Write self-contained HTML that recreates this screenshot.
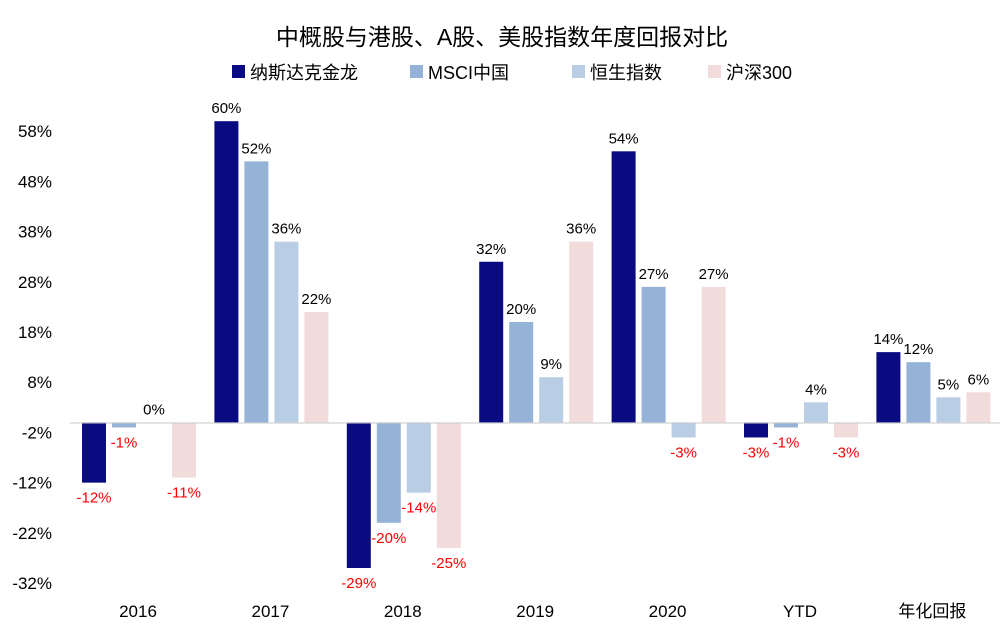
<!DOCTYPE html>
<html><head><meta charset="utf-8"><style>
body{margin:0;background:#fff;}
svg{display:block;font-family:"Liberation Sans","Noto Sans CJK SC",sans-serif;}
</style></head><body>
<svg id="chart" width="1004" height="643">
<text x="502" y="45" text-anchor="middle" font-size="23" fill="#000">中概股与港股、A股、美股指数年度回报对比</text>
<g id="legend"></g>
<g id="yaxis"></g>
<g id="bars"></g>
<line x1="70" x2="1000" y1="423" y2="423" stroke="#c8c8c8" stroke-width="1"/>
<g id="xaxis"></g>
</svg>
<script>
const categories=["2016","2017","2018","2019","2020","YTD","年化回报"];
const seriesNames=["纳斯达克金龙","MSCI中国","恒生指数","沪深300"];
const nasdaq=[-12,60,-29,32,54,-3,14];
const msci=[-1,52,-20,20,27,-1,12];
const hsi=[0,36,-14,9,-3,4,5];
const csi300=[-11,22,-25,36,27,-3,6];
const yTicks=[58,48,38,28,18,8,-2,-12,-22,-32];
const colors=["#0a0a82","#95b3d7","#b9cde5","#f2dcdb"];
const series=[nasdaq,msci,hsi,csi300];
const NS="http://www.w3.org/2000/svg";
function y(v){return 422.4-v*5.02;}
function bandX(i){return 72+i*132.4;}
function mk(tag,attrs,parent){const e=document.createElementNS(NS,tag);for(const k in attrs)e.setAttribute(k,attrs[k]);parent.appendChild(e);return e;}
const yg=document.getElementById('yaxis');
yTicks.forEach(t=>{const e=mk('text',{x:52,y:y(t)+6,'text-anchor':'end','font-size':17,fill:'#000'},yg);e.textContent=t+'%';

});
const xg=document.getElementById('xaxis');
categories.forEach((c,i)=>{const e=mk('text',{x:bandX(i)+66,y:617,'text-anchor':'middle','font-size':17,fill:'#000'},xg);e.textContent=c;

});
const bg=document.getElementById('bars');
series.forEach((s,si)=>{s.forEach((v,i)=>{
 const x=bandX(i)+10+si*30;const y0=y(0),y1=y(v);
 const r=mk('rect',{x:x,y:Math.min(y0,y1),width:24,height:Math.max(Math.abs(y1-y0),1),fill:colors[si]},bg);
 
 
 const t=mk('text',{x:x+12,y:v>=0?y1-8:y1+20,'text-anchor':'middle','font-size':15,fill:v>=0?'#000':'#ff0000'},bg);
 t.textContent=v+'%';
 
 
});});
const lg=document.getElementById('legend');
const lx=[232,410,572,708];
seriesNames.forEach((n,i)=>{
 const r=mk('rect',{x:lx[i],y:65,width:13,height:13,fill:colors[i]},lg);
 
 
 const t=mk('text',{x:lx[i]+18,y:79,'font-size':18,fill:'#000'},lg);t.textContent=n;
 
 
});
</script>
</body></html>
